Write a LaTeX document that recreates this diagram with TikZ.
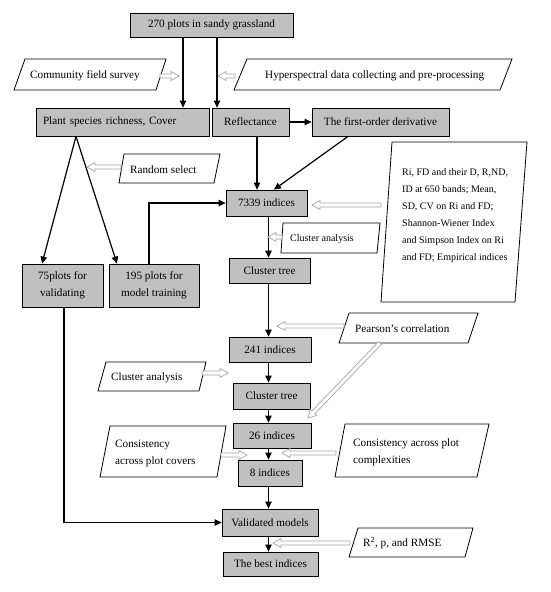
\documentclass[tikz,border=0pt]{standalone}
\usepackage{fontspec}
\setmainfont{Liberation Serif}
\usetikzlibrary{arrows.meta,calc}
\definecolor{boxgray}{RGB}{192,192,192}
\definecolor{hollowgray}{RGB}{165,165,165}
\newcommand\hollowarr[2]{%
  \path (#1) coordinate (hs) (#2) coordinate (he);
  \coordinate (hb) at ($(he)!8pt!(hs)$);
  \draw[harr] ($(hs)!2pt!90:(he)$) -- ($(hb)!2pt!90:(he)$) -- ($(hb)!4.5pt!90:(he)$) -- (he)
    -- ($(hb)!4.5pt!-90:(he)$) -- ($(hb)!2pt!-90:(he)$) -- ($(hs)!2pt!-90:(he)$) -- cycle;
}
\begin{document}
\begin{tikzpicture}[x=1pt,y=-1pt,
  box/.style={draw=black, line width=0.8pt, fill=boxgray, inner sep=2pt,
    font=\fontsize{11.2}{16.5}\selectfont, align=center},
  arr/.style={line width=1.2pt, -{Triangle[length=7pt,width=6.5pt]}},
  para/.style={draw=black, line width=0.8pt, fill=white},
  lbl/.style={font=\fontsize{11.2}{17}\selectfont, anchor=west, inner sep=0pt, align=left},
  smalllbl/.style={font=\fontsize{10}{17}\selectfont, anchor=west, inner sep=0pt, align=left},
  harr/.style={draw=hollowgray, line width=0.7pt, fill=white}]
\useasboundingbox (0,0) rectangle (550,592);
\fill[white] (0,0) rectangle (550,592);

% ---- boxes ----
\node[box, minimum width=163pt, minimum height=24pt] (top) at (211.5,25) {270 plots in sandy grassland};
\node[box, minimum width=173pt, minimum height=28pt, text width=159pt, inner xsep=7pt, align=left] (plant) at (122.5,122) {Plant species richness, Cover};
\node[box, minimum width=77pt, minimum height=28pt] (refl) at (250.5,122) {Reflectance};
\node[box, minimum width=137pt, minimum height=28pt] (deriv) at (380.5,122) {The first-order derivative};
\node[box, minimum width=81pt, minimum height=43pt] (n75) at (62.5,285.5) {75plots for\\validating};
\node[box, minimum width=90pt, minimum height=43pt] (n195) at (154,285.5) {195 plots for\\model training};
\node[box, minimum width=81pt, minimum height=26pt] (n7339) at (266.5,203) {7339 indices};
\node[box, minimum width=81pt, minimum height=25pt] (ct1) at (269.5,270.5) {Cluster tree};
\node[box, minimum width=82pt, minimum height=25pt] (n241) at (270,349.5) {241 indices};
\node[box, minimum width=77pt, minimum height=26pt] (ct2) at (271.5,396) {Cluster tree};
\node[box, minimum width=78pt, minimum height=25pt] (n26) at (272,435.5) {26 indices};
\node[box, minimum width=64pt, minimum height=26pt] (n8) at (270,473) {8 indices};
\node[box, minimum width=96pt, minimum height=27pt] (val) at (270,522.5) {Validated models};
\node[box, minimum width=95pt, minimum height=24pt] (best) at (270.5,564) {The best indices};

% ---- parallelograms ----
\draw[para] (25,59) -- (166,59) -- (156,90) -- (14,90) -- cycle;
\node[lbl] (cfs) at (30,76) {Community field survey};
\draw[para] (247,59) -- (512,59) -- (500,90) -- (234,90) -- cycle;
\node[lbl] (hyp) at (265,76) {Hyperspectral data collecting and pre-processing};
\draw[para] (124,154) -- (220,154) -- (214,183) -- (119,183) -- cycle;
\node[lbl] (rnd) at (130,170) {Random select};
\draw[para] (392,142) -- (527,142) -- (515,302) -- (381,302) -- cycle;
\node[smalllbl] (idx) at (402,215.5) {Ri, FD and their D, R,ND,\\ID at 650 bands; Mean,\\SD, CV on Ri and FD;\\Shannon-Wiener Index\\and Simpson Index on Ri\\and FD; Empirical indices};
\draw[para] (283,223) -- (380,223) -- (377,253) -- (281,253) -- cycle;
\node[smalllbl] (ca1) at (290,239) {Cluster analysis};
\draw[para] (349,313) -- (478,313) -- (468,343) -- (339,343) -- cycle;
\node[lbl] (pc) at (355,329) {Pearson’s correlation};
\draw[para] (106,362) -- (206,362) -- (199,391) -- (98,391) -- cycle;
\node[lbl] (ca2) at (111,378) {Cluster analysis};
\draw[para] (110,426) -- (226,426) -- (217,477) -- (100,477) -- cycle;
\node[lbl] (cov) at (115,453.5) {Consistency\\across plot covers};
\draw[para] (345,424) -- (489,424) -- (477,477) -- (335,477) -- cycle;
\node[lbl] (cpx) at (353,452) {Consistency across plot\\complexities};
\draw[para] (358,528) -- (473,528) -- (465,557) -- (349,557) -- cycle;
\node[lbl] (r2) at (363,543) {R\textsuperscript{2}, p, and RMSE};

% ---- x positions ----
\coordinate (x183) at (183,0);
\coordinate (x217) at (217,0);
\coordinate (x76) at (76,0);
\coordinate (x42) at (42,0);
\coordinate (x117) at (117,0);
\coordinate (x149) at (149,0);
\coordinate (x257) at (257,0);
\coordinate (x348) at (348,0);
\coordinate (x274) at (274,0);
\coordinate (x64) at (64,0);
\coordinate (colx) at (268.5,0);

% ---- black connectors ----
\draw[arr] (top.south -| x183) -- (plant.north -| x183);
\draw[arr] (top.south -| x217) -- (refl.north -| x217);
\draw[arr] (refl) -- (deriv);
\draw[arr] (plant.south -| x76) -- (n75.north -| x42);
\draw[arr] (plant.south -| x76) -- (n195.north -| x117);
\draw[arr] (n195.north -| x149) |- (n7339.west);
\draw[arr] (refl.south -| x257) -- (n7339.north -| x257);
\draw[arr] (deriv.south -| x348) -- (n7339.north -| x274);
\draw[arr] (n7339.south -| colx) -- (ct1.north -| colx);
\draw[arr] (ct1.south -| colx) -- (n241.north -| colx);
\draw[arr] (n241.south -| colx) -- (ct2.north -| colx);
\draw[arr] (ct2.south -| colx) -- (n26.north -| colx);
\draw[arr] (n26.south -| colx) -- (n8.north -| colx);
\draw[arr] (n8.south -| colx) -- (val.north -| colx);
\draw[arr] (val.south -| colx) -- (best.north -| colx);
\draw[arr] (n75.south -| x64) |- (val.west);

% ---- hollow arrows ----
\coordinate (h1s) at (160,76);  \coordinate (h1e) at (179,76);
\coordinate (h2s) at (235,76);  \coordinate (h2e) at (218,76);
\coordinate (h3s) at (121,167); \coordinate (h3e) at (87,167);
\coordinate (h4s) at (381,205); \coordinate (h4e) at (312,205);
\coordinate (h5s) at (282,237); \coordinate (h5e) at (268,237);
\coordinate (h6s) at (344,326); \coordinate (h6e) at (277,326);
\coordinate (h7s) at (202,373); \coordinate (h7e) at (228,373);
\coordinate (h8s) at (380,343); \coordinate (h8e) at (308,418);
\coordinate (h9s) at (221,455); \coordinate (h9e) at (247,455);
\coordinate (h10s) at (336,453); \coordinate (h10e) at (282,453);
\coordinate (h11s) at (350,543); \coordinate (h11e) at (273,543);
\hollowarr{h1s}{h1e}
\hollowarr{h2s}{h2e}
\hollowarr{h3s}{h3e}
\hollowarr{h4s}{h4e}
\hollowarr{h5s}{h5e}
\hollowarr{h6s}{h6e}
\hollowarr{h7s}{h7e}
\hollowarr{h8s}{h8e}
\hollowarr{h9s}{h9e}
\hollowarr{h10s}{h10e}
\hollowarr{h11s}{h11e}
\end{tikzpicture}
\end{document}
